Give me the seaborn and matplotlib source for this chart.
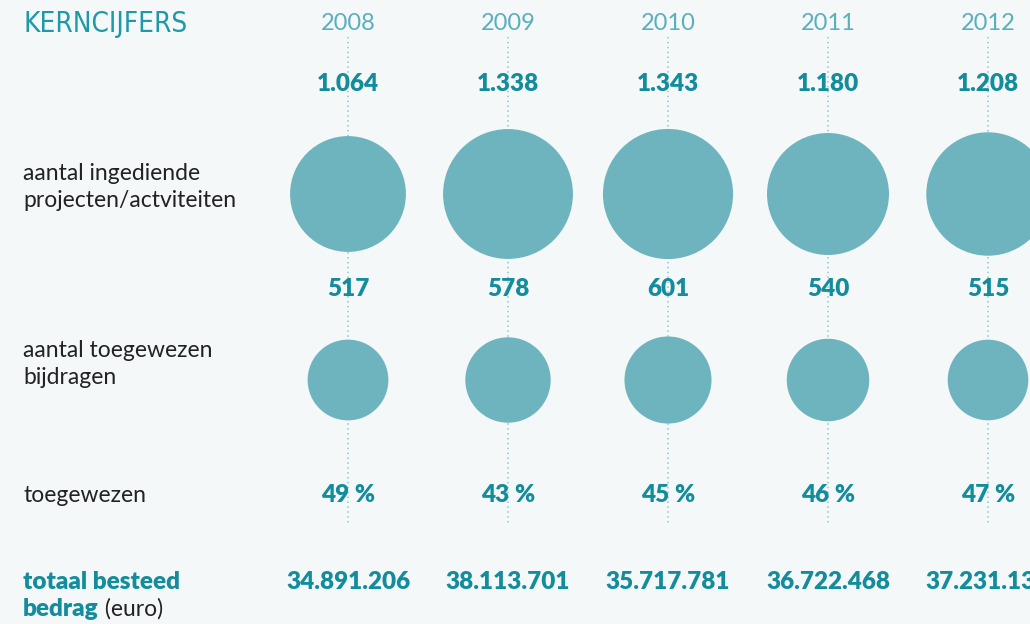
import matplotlib
matplotlib.use("Agg")
import matplotlib.pyplot as plt
import seaborn as sns
import pandas as pd

# data
years = [2008, 2009, 2010, 2011, 2012]
ingediend = [1064, 1338, 1343, 1180, 1208]
toegewezen = [517, 578, 601, 540, 515]
pct_toegewezen = [49, 43, 45, 46, 47]
totaal_bedrag = [34891206, 38113701, 35717781, 36722468, 37231130]

row_labels = ["aantal ingediende\nprojecten/actviteiten", "aantal toegewezen\nbijdragen", "toegewezen"]

BG = "#f5f8f9"
CIRCLE = "#6db4bf"
TEAL = "#138c9b"
HEAD = "#1d9aa8"
YEARC = "#5aafbb"
DARK = "#222222"

sns.set_theme(style="white")
plt.rcParams["font.family"] = ["Lato", "DejaVu Sans"]

fig = plt.figure(figsize=(10.3, 6.24), dpi=100, facecolor=BG)
ax = fig.add_axes([0, 0, 1, 1])
ax.set_facecolor(BG)

# x in years, y in pixel rows from the top
px_per_year = 160
ax.set_xlim(2008 - 348 / px_per_year, 2008 + (1030 - 348) / px_per_year)
ax.set_ylim(624, 0)
ax.axis("off")

y_year, y_v1, y_c1, y_v2, y_c2, y_pct, y_tot = 24, 84, 194, 289, 380, 495, 582

def dots(v):
    return f"{v:,}".replace(",", ".")

# dotted guide lines
for yr in years:
    ax.plot([yr, yr], [37, 525], color="#8ec6ce", lw=1.1, ls=(0, (1, 2.2)), zorder=1)

# circles, area proportional to value
df = pd.DataFrame({
    "year": years * 2,
    "row": [y_c1] * 5 + [y_c2] * 5,
    "value": ingediend + toegewezen,
})
sns.scatterplot(data=df, x="year", y="row", size="value", sizes=(0, 9150),
                size_norm=(0, 1400), color=CIRCLE, linewidth=0, alpha=1,
                legend=False, ax=ax, zorder=2)

bold = dict(color=TEAL, fontsize=17.5, fontweight="heavy", ha="center", va="center", zorder=3)
for i, yr in enumerate(years):
    ax.text(yr, y_year, str(yr), color=YEARC, fontsize=17, ha="center", va="center",
            fontweight="normal")
    ax.text(yr, y_v1, dots(ingediend[i]), **bold)
    ax.text(yr, y_v2, dots(toegewezen[i]), **bold)
    ax.text(yr, y_pct, f"{pct_toegewezen[i]} %", **bold)
    ax.text(yr, y_tot, dots(totaal_bedrag[i]), **bold)

# left column
xl = ax.get_xlim()[0] + 23 / px_per_year
ax.text(xl, y_year, "KERNCIJFERS", color=HEAD, fontsize=20, ha="left", va="center",
        family="DejaVu Sans", fontstretch="condensed")
ax.text(xl, y_c1 - 7, row_labels[0], color=DARK, fontsize=16.5, ha="left", va="center",
        linespacing=1.3)
ax.text(xl, y_c2 - 16, row_labels[1], color=DARK, fontsize=16.5, ha="left", va="center",
        linespacing=1.3)
ax.text(xl, y_pct, row_labels[2], color=DARK, fontsize=16.5, ha="left", va="center")
ax.text(xl, y_tot, "totaal besteed", color=TEAL, fontsize=17.5, fontweight="heavy",
        ha="left", va="center")
t = ax.text(xl, y_tot + 27, "bedrag", color=TEAL, fontsize=17.5, fontweight="heavy",
            ha="left", va="center")
ax.annotate(" (euro)", xycoords=t, xy=(1, 0.5), va="center", ha="left",
            color=DARK, fontsize=16.5)

fig.savefig("out.png", dpi=100, facecolor=BG)
